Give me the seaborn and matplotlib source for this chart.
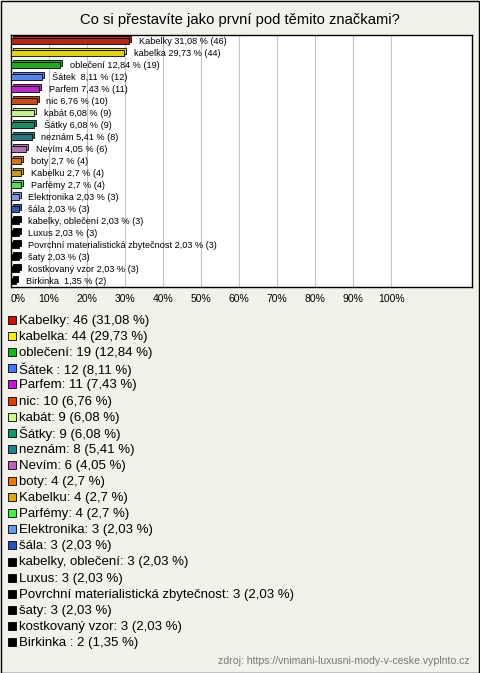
import copy
import pandas as pd
import matplotlib
matplotlib.use("Agg")
import matplotlib.pyplot as plt
import matplotlib.transforms as mtrans
from matplotlib.patches import Rectangle
import seaborn as sns

# ---------------------------
# data
# ---------------------------
names = ["Kabelky", "kabelka", "oblečení", "Šátek ", "Parfem", "nic", "kabát", "Šátky",
         "neznám", "Nevím", "boty", "Kabelku", "Parfémy", "Elektronika", "šála",
         "kabelky, oblečení", "Luxus", "Povrchní materialistická zbytečnost", "šaty",
         "kostkovaný vzor", "Birkinka "]
counts = [46, 44, 19, 12, 11, 10, 9, 9, 8, 6, 4, 4, 4, 3, 3, 3, 3, 3, 3, 3, 2]
percents = [31.08, 29.73, 12.84, 8.11, 7.43, 6.76, 6.08, 6.08, 5.41, 4.05, 2.7, 2.7, 2.7,
            2.03, 2.03, 2.03, 2.03, 2.03, 2.03, 2.03, 1.35]
colors = ["#c81400", "#ffee00", "#11bb11", "#4477ff", "#cc11dd", "#e04000", "#ccff88",
          "#119966", "#22808f", "#bb66bb", "#ee7700", "#ddaa00", "#44ee44", "#6699ee",
          "#2255bb", "#000000", "#000000", "#000000", "#000000", "#000000", "#000000"]
xticks = [0, 10, 20, 30, 40, 50, 60, 70, 80, 90, 100]
title = "Co si přestavíte jako první pod těmito značkami?"
source = "zdroj: https://vnimani-luxusni-mody-v-ceske.vyplnto.cz"

def fmt(v):
    return ("%g" % v).replace(".", ",")

df = pd.DataFrame({"name": names, "count": counts, "pct": percents})

# ---------------------------
# figure
# ---------------------------
W, H = 480, 673
bg = "#f3f2ea"
plt.rcParams["font.family"] = ["Liberation Sans", "DejaVu Sans"]
fig = plt.figure(figsize=(W / 100, H / 100), dpi=100, facecolor=bg)
fig.patches.append(Rectangle((0.5 / W, 0.5 / H), 1 - 1.5 / W, 1 - 1.5 / H,
                             transform=fig.transFigure, fill=False, edgecolor="black", lw=1))

ax = fig.add_axes([11 / W, 1 - 287 / H, 461 / W, 252 / H])
ax.set_facecolor("white")

sns.barplot(data=df, y="name", x="pct", hue="name", palette=colors, legend=False,
            orient="h", edgecolor="black", linewidth=0.6, width=0.45, ax=ax, zorder=3)

# 3D-ish back face
shift = mtrans.ScaledTranslation(2 / 100, 2 / 100, fig.dpi_scale_trans)
for p in list(ax.patches):
    s = copy.copy(p)
    s.set_transform(ax.transData + shift)
    s.set_zorder(2)
    ax.add_patch(s)

for i, (n, c, v) in enumerate(zip(names, counts, percents)):
    ax.annotate(f"{n} {fmt(v)} % ({c})", xy=(v, i), xytext=(7, 0), textcoords="offset points",
                va="center", ha="left", fontsize=6.6, zorder=4)

ax.set_xlim(0, 121.3)
ax.set_ylim(len(names) - 0.5, -0.5)
ax.set_xticks(xticks)
ax.set_xticklabels([f"{t}%" for t in xticks], fontsize=7.5)
ax.get_xticklabels()[0].set_ha("left")
ax.set_yticks([])
ax.set_xlabel("")
ax.set_ylabel("")
ax.tick_params(axis="x", length=0, pad=5)
ax.grid(axis="x", color="#c4c4c4", lw=0.8, zorder=0)
ax.set_axisbelow(True)
for sp in ax.spines.values():
    sp.set_color("black")
    sp.set_linewidth(1)

fig.text(240 / W, 1 - 20 / H, title, ha="center", va="center", fontsize=10.6)

# legend list
y0, dy = 321, 16.1
for i, (n, c, v, col) in enumerate(zip(names, counts, percents, colors)):
    y = y0 + i * dy
    fig.patches.append(Rectangle((8 / W, 1 - (y + 3) / H), 8 / W, 8 / H,
                                 transform=fig.transFigure, facecolor=col,
                                 edgecolor="black", lw=0.6))
    fig.text(19 / W, 1 - y / H, f"{n}: {c} ({fmt(v)} %)", ha="left", va="center", fontsize=9.5)

fig.text(470 / W, 1 - 661 / H, source, ha="right", va="center", fontsize=7.6, color="#777777")

fig.savefig("out.png", dpi=100, facecolor=bg)
